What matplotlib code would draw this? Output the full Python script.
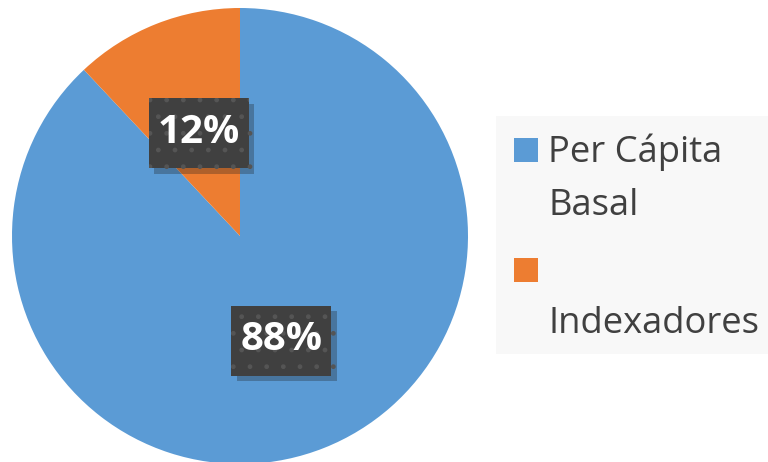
import matplotlib.pyplot as plt
import matplotlib.patheffects as pe
from matplotlib.patches import Rectangle

# Share of funding by component
labels = ["Per Cápita\nBasal", "Indexadores"]
shares = [88, 12]
colors = ["#5b9bd5", "#ed7d31"]

W, H = 768, 462
fig = plt.figure(figsize=(W / 100, H / 100), dpi=100)
ax = fig.add_axes([0, 0, 1, 1])

wedges, texts, autotexts = ax.pie(
    shares, colors=colors, startangle=90, counterclock=False,
    center=(240, H - 236), radius=228,
    autopct="%d%%", pctdistance=0.49,
    wedgeprops=dict(linewidth=0),
    textprops=dict(color="white", fontsize=29, fontweight="bold",
                   family="Open Sans", zorder=5),
)

# dark dotted label boxes with a soft drop shadow
bw, bh = 100, 70
for t in autotexts:
    x, y = t.get_position()
    box = Rectangle((x - bw / 2, y - bh / 2 - 1), bw, bh, facecolor="#404040",
                    edgecolor="#555555", hatch=".", linewidth=0, zorder=4)
    box.set_path_effects(
        [pe.SimplePatchShadow(offset=(4, -4), shadow_rgbFace="#1f1f1f", alpha=0.3),
         pe.Normal()])
    ax.add_patch(box)

ax.set_xlim(0, W)
ax.set_ylim(0, H)
ax.set_aspect("equal")
ax.axis("off")

# legend panel on the right
ax.add_patch(Rectangle((496, H - 354), W - 496, 238, facecolor="#f8f8f8",
                       edgecolor="none", zorder=0))
txt = dict(fontsize=26.2, color="#404040", family="Open Sans", va="baseline")
ax.add_patch(Rectangle((514, H - 162), 24, 24, facecolor=colors[0], edgecolor="none"))
ax.text(548, H - 162, "Per Cápita", **txt)
ax.text(548, H - 215, "Basal", **txt)
ax.add_patch(Rectangle((514, H - 282), 24, 24, facecolor=colors[1], edgecolor="none"))
ax.text(548, H - 333, labels[1], **txt)

fig.savefig("out.png", dpi=100)
